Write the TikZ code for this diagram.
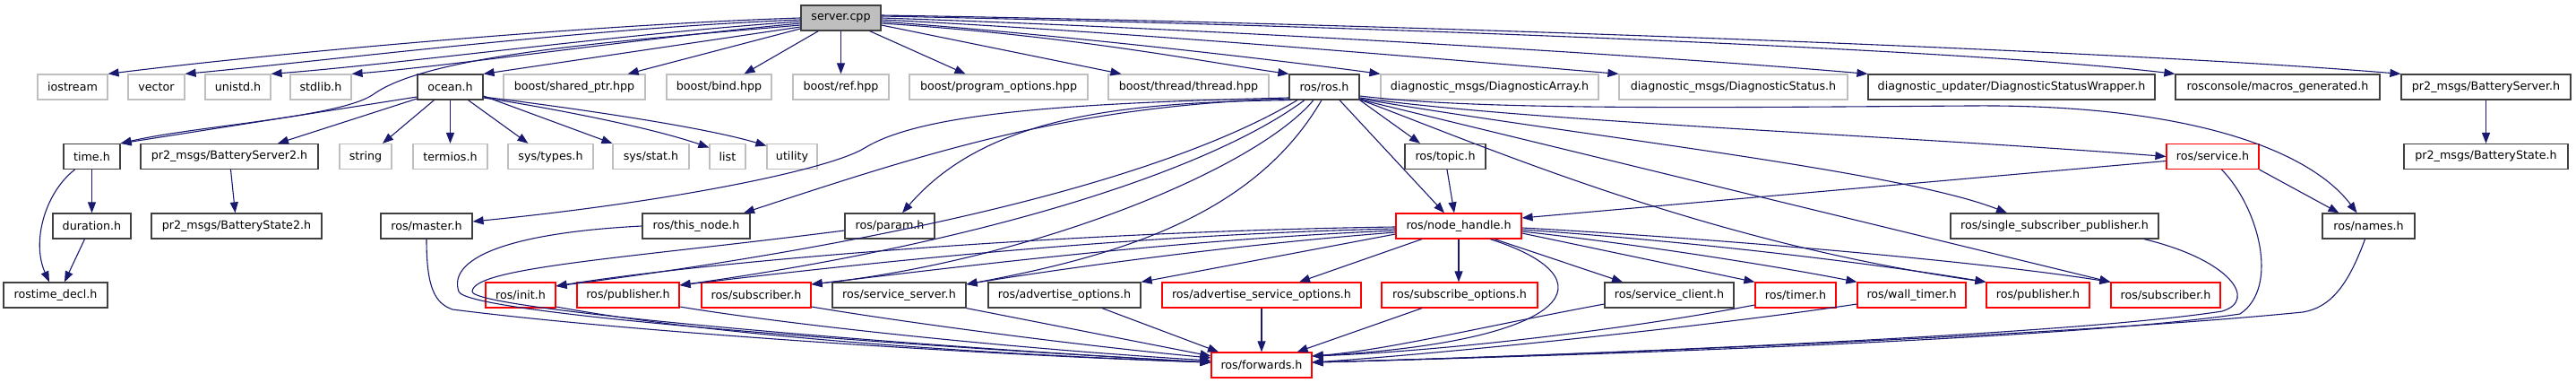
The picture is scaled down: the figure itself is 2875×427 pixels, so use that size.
\documentclass[tikz,border=0pt]{standalone}
\usepackage{fontspec}
\setmainfont{DejaVu Sans}
\usetikzlibrary{arrows.meta}
\definecolor{edgec}{RGB}{25,25,112}
\definecolor{gryc}{RGB}{191,191,191}
\definecolor{blkc}{RGB}{64,64,64}
\definecolor{redc}{RGB}{255,0,0}
\tikzset{
 nb/.style={draw, fill=white, line width=1.2pt, minimum height=28pt, inner sep=0pt, font=\fontsize{12.7}{15}\selectfont, text=black},
 gb/.style={nb, draw=gryc},
 bb/.style={nb, draw=blkc},
 rb/.style={nb, draw=redc},
 srv/.style={nb, draw=blkc, fill=gryc},
 e/.style={draw=edgec, line width=1.1pt, -{Triangle[length=12pt,width=9pt]}},
}
\begin{document}
\begin{tikzpicture}[x=1pt,y=-1pt]
\useasboundingbox (0,0) rectangle (2875,427);
% row 0
\node[srv, minimum width=89pt] (server) at (938.5,20) {server.cpp};
% row 1
\node[gb, minimum width=78pt] (iostream) at (81,97) {iostream};
\node[gb, minimum width=63pt] (vector) at (174.5,97) {vector};
\node[gb, minimum width=73pt] (unistd) at (265.5,97) {unistd.h};
\node[gb, minimum width=68pt] (stdlib) at (358,97) {stdlib.h};
\node[bb, minimum width=73pt] (ocean) at (502.5,97) {ocean.h};
\node[gb, minimum width=158pt] (sharedptr) at (641,97) {boost/shared\_ptr.hpp};
\node[gb, minimum width=117pt] (bind) at (802.5,97) {boost/bind.hpp};
\node[gb, minimum width=107pt] (ref) at (938.5,97) {boost/ref.hpp};
\node[gb, minimum width=199pt] (progopt) at (1114.5,97) {boost/program\_options.hpp};
\node[gb, minimum width=179pt] (thread) at (1326.5,97) {boost/thread/thread.hpp};
\node[bb, minimum width=78pt] (ros) at (1478,97) {ros/ros.h};
\node[gb, minimum width=243pt] (darray) at (1662.5,97) {diagnostic\_msgs/DiagnosticArray.h};
\node[gb, minimum width=255pt] (dstatus) at (1934.5,97) {diagnostic\_msgs/DiagnosticStatus.h};
\node[bb, minimum width=320pt] (dwrap) at (2245,97) {diagnostic\_updater/DiagnosticStatusWrapper.h};
\node[bb, minimum width=228pt] (macros) at (2542,97) {rosconsole/macros\_generated.h};
\node[bb, minimum width=189pt] (bserver) at (2774.5,97) {pr2\_msgs/BatteryServer.h};
% row 2
\node[bb, minimum width=63pt] (time) at (102.5,174.5) {time.h};
\node[bb, minimum width=198pt] (bserver2) at (256,174.5) {pr2\_msgs/BatteryServer2.h};
\node[gb, minimum width=58pt] (string) at (408,174.5) {string};
\node[gb, minimum width=83pt] (termios) at (502.5,174.5) {termios.h};
\node[gb, minimum width=95pt] (systypes) at (614.5,174.5) {sys/types.h};
\node[gb, minimum width=85pt] (sysstat) at (726.5,174.5) {sys/stat.h};
\node[gb, minimum width=40pt] (list) at (812,174.5) {list};
\node[gb, minimum width=56pt] (utility) at (884,174.5) {utility};
\node[bb, minimum width=90pt] (topic) at (1613,174.5) {ros/topic.h};
\node[rb, minimum width=103pt] (service) at (2469.5,174.5) {ros/service.h};
\node[bb, minimum width=183pt] (bstate) at (2774.5,174.5) {pr2\_msgs/BatteryState.h};
% row 3
\node[bb, minimum width=87pt] (duration) at (102.5,252) {duration.h};
\node[bb, minimum width=190pt] (bstate2) at (264,252) {pr2\_msgs/BatteryState2.h};
\node[bb, minimum width=102pt] (master) at (476,252) {ros/master.h};
\node[bb, minimum width=120pt] (thisnode) at (777,252) {ros/this\_node.h};
\node[bb, minimum width=100pt] (param) at (993,252) {ros/param.h};
\node[rb, minimum width=140pt] (nh) at (1628,252) {ros/node\_handle.h};
\node[bb, minimum width=232pt] (ssp) at (2293,252) {ros/single\_subscriber\_publisher.h};
\node[bb, minimum width=103pt] (names) at (2643.5,252) {ros/names.h};
% row 4
\node[bb, minimum width=116pt] (rostime) at (62,329) {rostime\_decl.h};
\node[rb, minimum width=78pt] (init) at (581,329) {ros/init.h};
\node[rb, minimum width=114pt] (pub1) at (701,329) {ros/publisher.h};
\node[rb, minimum width=122pt] (sub1) at (844,329) {ros/subscriber.h};
\node[bb, minimum width=149pt] (ssrv) at (1003.5,329) {ros/service\_server.h};
\node[bb, minimum width=170pt] (advopt) at (1188,329) {ros/advertise\_options.h};
\node[rb, minimum width=222pt] (advsrv) at (1408,329) {ros/advertise\_service\_options.h};
\node[rb, minimum width=174pt] (subopt) at (1629,329) {ros/subscribe\_options.h};
\node[bb, minimum width=144pt] (sclient) at (1863,329) {ros/service\_client.h};
\node[rb, minimum width=90pt] (timer) at (2004,329) {ros/timer.h};
\node[rb, minimum width=121pt] (wtimer) at (2133.5,329) {ros/wall\_timer.h};
\node[rb, minimum width=115pt] (pub2) at (2274.5,329) {ros/publisher.h};
\node[rb, minimum width=122pt] (sub2) at (2417,329) {ros/subscriber.h};
% row 5
\node[rb, minimum width=112pt] (forwards) at (1408,407) {ros/forwards.h};

% ---- edges from server.cpp
\draw[e] (server.west) .. controls (650,28) and (300,60) .. (iostream.north east);
\draw[e] ([yshift=-2pt]server.west) .. controls (650,32) and (380,66) .. (vector.north east);
\draw[e] ([yshift=-4pt]server.west) .. controls (700,37) and (440,72) .. (unistd.north east);
\draw[e] ([yshift=-6pt]server.west) .. controls (720,42) and (500,74) .. (stdlib.north east);
\draw[e] ([yshift=-8pt]server.west) .. controls (700,45) and (480,60) .. (417,105) .. controls (380,131) and (220,140) .. (time.north east);
\draw[e] ([yshift=-10pt]server.west) -- (ocean.north east);
\draw[e] ([yshift=-12pt]server.west) -- ([xshift=-20pt]sharedptr.north east);
\draw[e] ([xshift=20pt]server.south west) -- ([xshift=28pt]bind.north);
\draw[e] (server) -- (ref);
\draw[e] ([xshift=-13pt]server.south east) -- ([xshift=-37pt]progopt.north);
\draw[e] ([yshift=-8pt]server.east) -- ([xshift=-75pt]thread.north);
\draw[e] ([yshift=-6pt]server.east) .. controls (1200,40) and (1350,70) .. (ros.north west);
\draw[e] ([yshift=-4pt]server.east) .. controls (1200,40) and (1450,70) .. (darray.north west);
\draw[e] ([yshift=-2pt]server.east) .. controls (1250,35) and (1600,65) .. (dstatus.north west);
\draw[e] (server.east) .. controls (1350,32) and (1850,62) .. (dwrap.north west);
\draw[e] ([yshift=2pt]server.east) .. controls (1500,28) and (2200,55) .. (macros.north west);
\draw[e] ([yshift=3pt]server.east) .. controls (1500,25) and (2350,55) .. (bserver.north west);
% ---- ocean.h
\draw[e] ([yshift=-11pt]ocean.west) -- (time.north east);
\draw[e] ([yshift=-13pt]ocean.west) -- ([xshift=54pt]bserver2.north);
\draw[e] ([xshift=-18pt]ocean.south) -- ([xshift=19pt]string.north);
\draw[e] (ocean) -- (termios);
\draw[e] ([xshift=20pt]ocean.south) -- ([xshift=-25pt]systypes.north);
\draw[e] ([yshift=-10pt]ocean.east) -- (sysstat.north west);
\draw[e] ([yshift=-12pt]ocean.east) .. controls (600,118) and (720,140) .. ([yshift=10pt]list.west);
\draw[e] ([yshift=-11pt]ocean.east) .. controls (620,118) and (780,140) .. ([yshift=12pt]utility.west);
% ---- time, battery
\draw[e] (time) -- (duration);
\draw[e] ([xshift=-19pt]time.south) .. controls (50,215) and (35,270) .. ([xshift=-7pt]rostime.north);
\draw[e] ([xshift=-8pt]duration.south) -- ([xshift=10pt]rostime.north);
\draw[e] (bserver2) -- (bstate2);
\draw[e] (bserver) -- (bstate);
% ---- ros.h
\draw[e] ([yshift=-12pt]ros.west) .. controls (1200,115) and (1030,125) .. (965,165) .. controls (926,189) and (750,225) .. ([yshift=5pt]master.east);
\draw[e] ([yshift=-13pt]ros.west) .. controls (1200,118) and (1050,165) .. ([xshift=53pt]thisnode.north);
\draw[e] ([xshift=-37pt]ros.south) .. controls (1250,114) and (1100,130) .. ([xshift=14pt]param.north);
\draw[e] ([xshift=-30pt]ros.south) .. controls (1300,200) and (1000,270) .. ([yshift=10pt]init.east);
\draw[e] ([xshift=-22pt]ros.south) .. controls (1350,190) and (1100,270) .. ([yshift=11pt]pub1.east);
\draw[e] ([xshift=-12pt]ros.south) .. controls (1400,190) and (1150,290) .. ([yshift=12pt]sub1.east);
\draw[e] ([xshift=-3pt]ros.south) .. controls (1400,240) and (1250,285) .. ([yshift=12pt]ssrv.east);
\draw[e] ([xshift=17pt]ros.south) -- ([xshift=-16pt]nh.north);
\draw[e] (ros.south east) -- ([xshift=-28pt]topic.north);
\draw[e] ([yshift=-12pt]ros.east) .. controls (1700,135) and (2100,150) .. (service.west);
\draw[e] ([yshift=-10pt]ros.east) .. controls (1650,123) and (1900,120) .. (2200,118) .. controls (2450,116) and (2580,170) .. ([xshift=-13pt]names.north);
\draw[e] ([yshift=-13pt]ros.east) .. controls (1750,150) and (2120,190) .. ([xshift=-53pt]ssp.north);
\draw[e] ([yshift=-14pt]ros.east) -- (sub2.north west);
\draw[e] ([yshift=-14pt]ros.east) .. controls (1650,160) and (1900,270) .. (pub2.north west);
% ---- topic, service
\draw[e] ([xshift=2pt]topic.south) -- ([xshift=-5pt]nh.north);
\draw[e] ([yshift=-5pt]service.west) -- ([yshift=9pt]nh.east);
\draw[e] (service.south east) -- ([xshift=-33pt]names.north);
\draw[e] ([xshift=10pt]service.south) .. controls (2520,230) and (2545,320) .. (2500,350) .. controls (2300,380) and (1700,398) .. ([yshift=3pt]forwards.east);
% ---- node_handle.h
\draw[e] ([yshift=-1pt]nh.west) .. controls (1200,258) and (800,290) .. ([yshift=10pt]init.east);
\draw[e] ([yshift=-3pt]nh.west) .. controls (1250,262) and (950,295) .. ([yshift=11pt]pub1.east);
\draw[e] ([yshift=-5pt]nh.west) .. controls (1300,268) and (1050,300) .. ([yshift=12pt]sub1.east);
\draw[e] ([yshift=-7pt]nh.west) .. controls (1350,275) and (1150,305) .. ([yshift=12pt]ssrv.east);
\draw[e] ([yshift=-9pt]nh.west) -- (advopt.north east);
\draw[e] ([xshift=-41pt]nh.south) -- ([xshift=42pt]advsrv.north);
\draw[e] (nh.south) -- ([xshift=-1pt]subopt.north);
\draw[e] ([xshift=40pt]nh.south) -- ([xshift=-52pt]sclient.north);
\draw[e] ([yshift=-8pt]nh.east) -- (timer.north west);
\draw[e] ([yshift=-6pt]nh.east) .. controls (1850,275) and (2000,300) .. (wtimer.north west);
\draw[e] ([yshift=-4pt]nh.east) .. controls (1900,270) and (2100,295) .. (pub2.north west);
\draw[e] ([yshift=-2pt]nh.east) .. controls (1900,265) and (2200,290) .. (sub2.north west);
\draw[e] ([xshift=35pt]nh.south) .. controls (1800,310) and (1760,380) .. ([yshift=10pt]forwards.east);
% ---- into forwards.h
\draw[e] ([xshift=-4pt]names.south) .. controls (2620,320) and (2600,343) .. (2570,348) .. controls (2300,375) and (1700,398) .. ([yshift=3pt]forwards.east);
\draw[e] ([xshift=100pt]ssp.south) .. controls (2490,290) and (2520,335) .. (2480,347) .. controls (2300,375) and (1700,398) .. ([yshift=3pt]forwards.east);
\draw[e] ([yshift=-10pt]wtimer.west) .. controls (1900,365) and (1600,395) .. ([yshift=3pt]forwards.east);
\draw[e] ([yshift=-11pt]timer.west) .. controls (1800,370) and (1600,392) .. ([yshift=10pt]forwards.east);
\draw[e] ([yshift=-10pt]sclient.west) .. controls (1650,365) and (1550,390) .. ([yshift=10pt]forwards.east);
\draw[e] ([xshift=-42pt]subopt.south) -- ([xshift=-17pt]forwards.north east);
\draw[e] (advsrv) -- (forwards);
\draw[e] ([xshift=42pt]advopt.south) -- ([xshift=-48pt]forwards.north);
\draw[e] (ssrv.south east) -- ([yshift=10pt]forwards.west);
\draw[e] ([yshift=-13pt]sub1.east) .. controls (1000,358) and (1200,385) .. ([yshift=8pt]forwards.west);
\draw[e] ([yshift=-13pt]pub1.east) .. controls (900,365) and (1150,390) .. ([yshift=5pt]forwards.west);
\draw[e] ([yshift=-13pt]init.east) .. controls (800,375) and (1100,395) .. ([yshift=3pt]forwards.west);
\draw[e] (master.south) .. controls (476,320) and (485,338) .. (505,345) .. controls (700,370) and (1100,396) .. ([yshift=3pt]forwards.west);
\draw[e] (thisnode.west) .. controls (560,260) and (500,290) .. (512,325) .. controls (520,350) and (1000,385) .. ([yshift=3pt]forwards.west);
\draw[e] ([yshift=-5pt]param.west) .. controls (700,288) and (528,298) .. (527,325) .. controls (526,345) and (1000,385) .. ([yshift=3pt]forwards.west);
\end{tikzpicture}
\end{document}
